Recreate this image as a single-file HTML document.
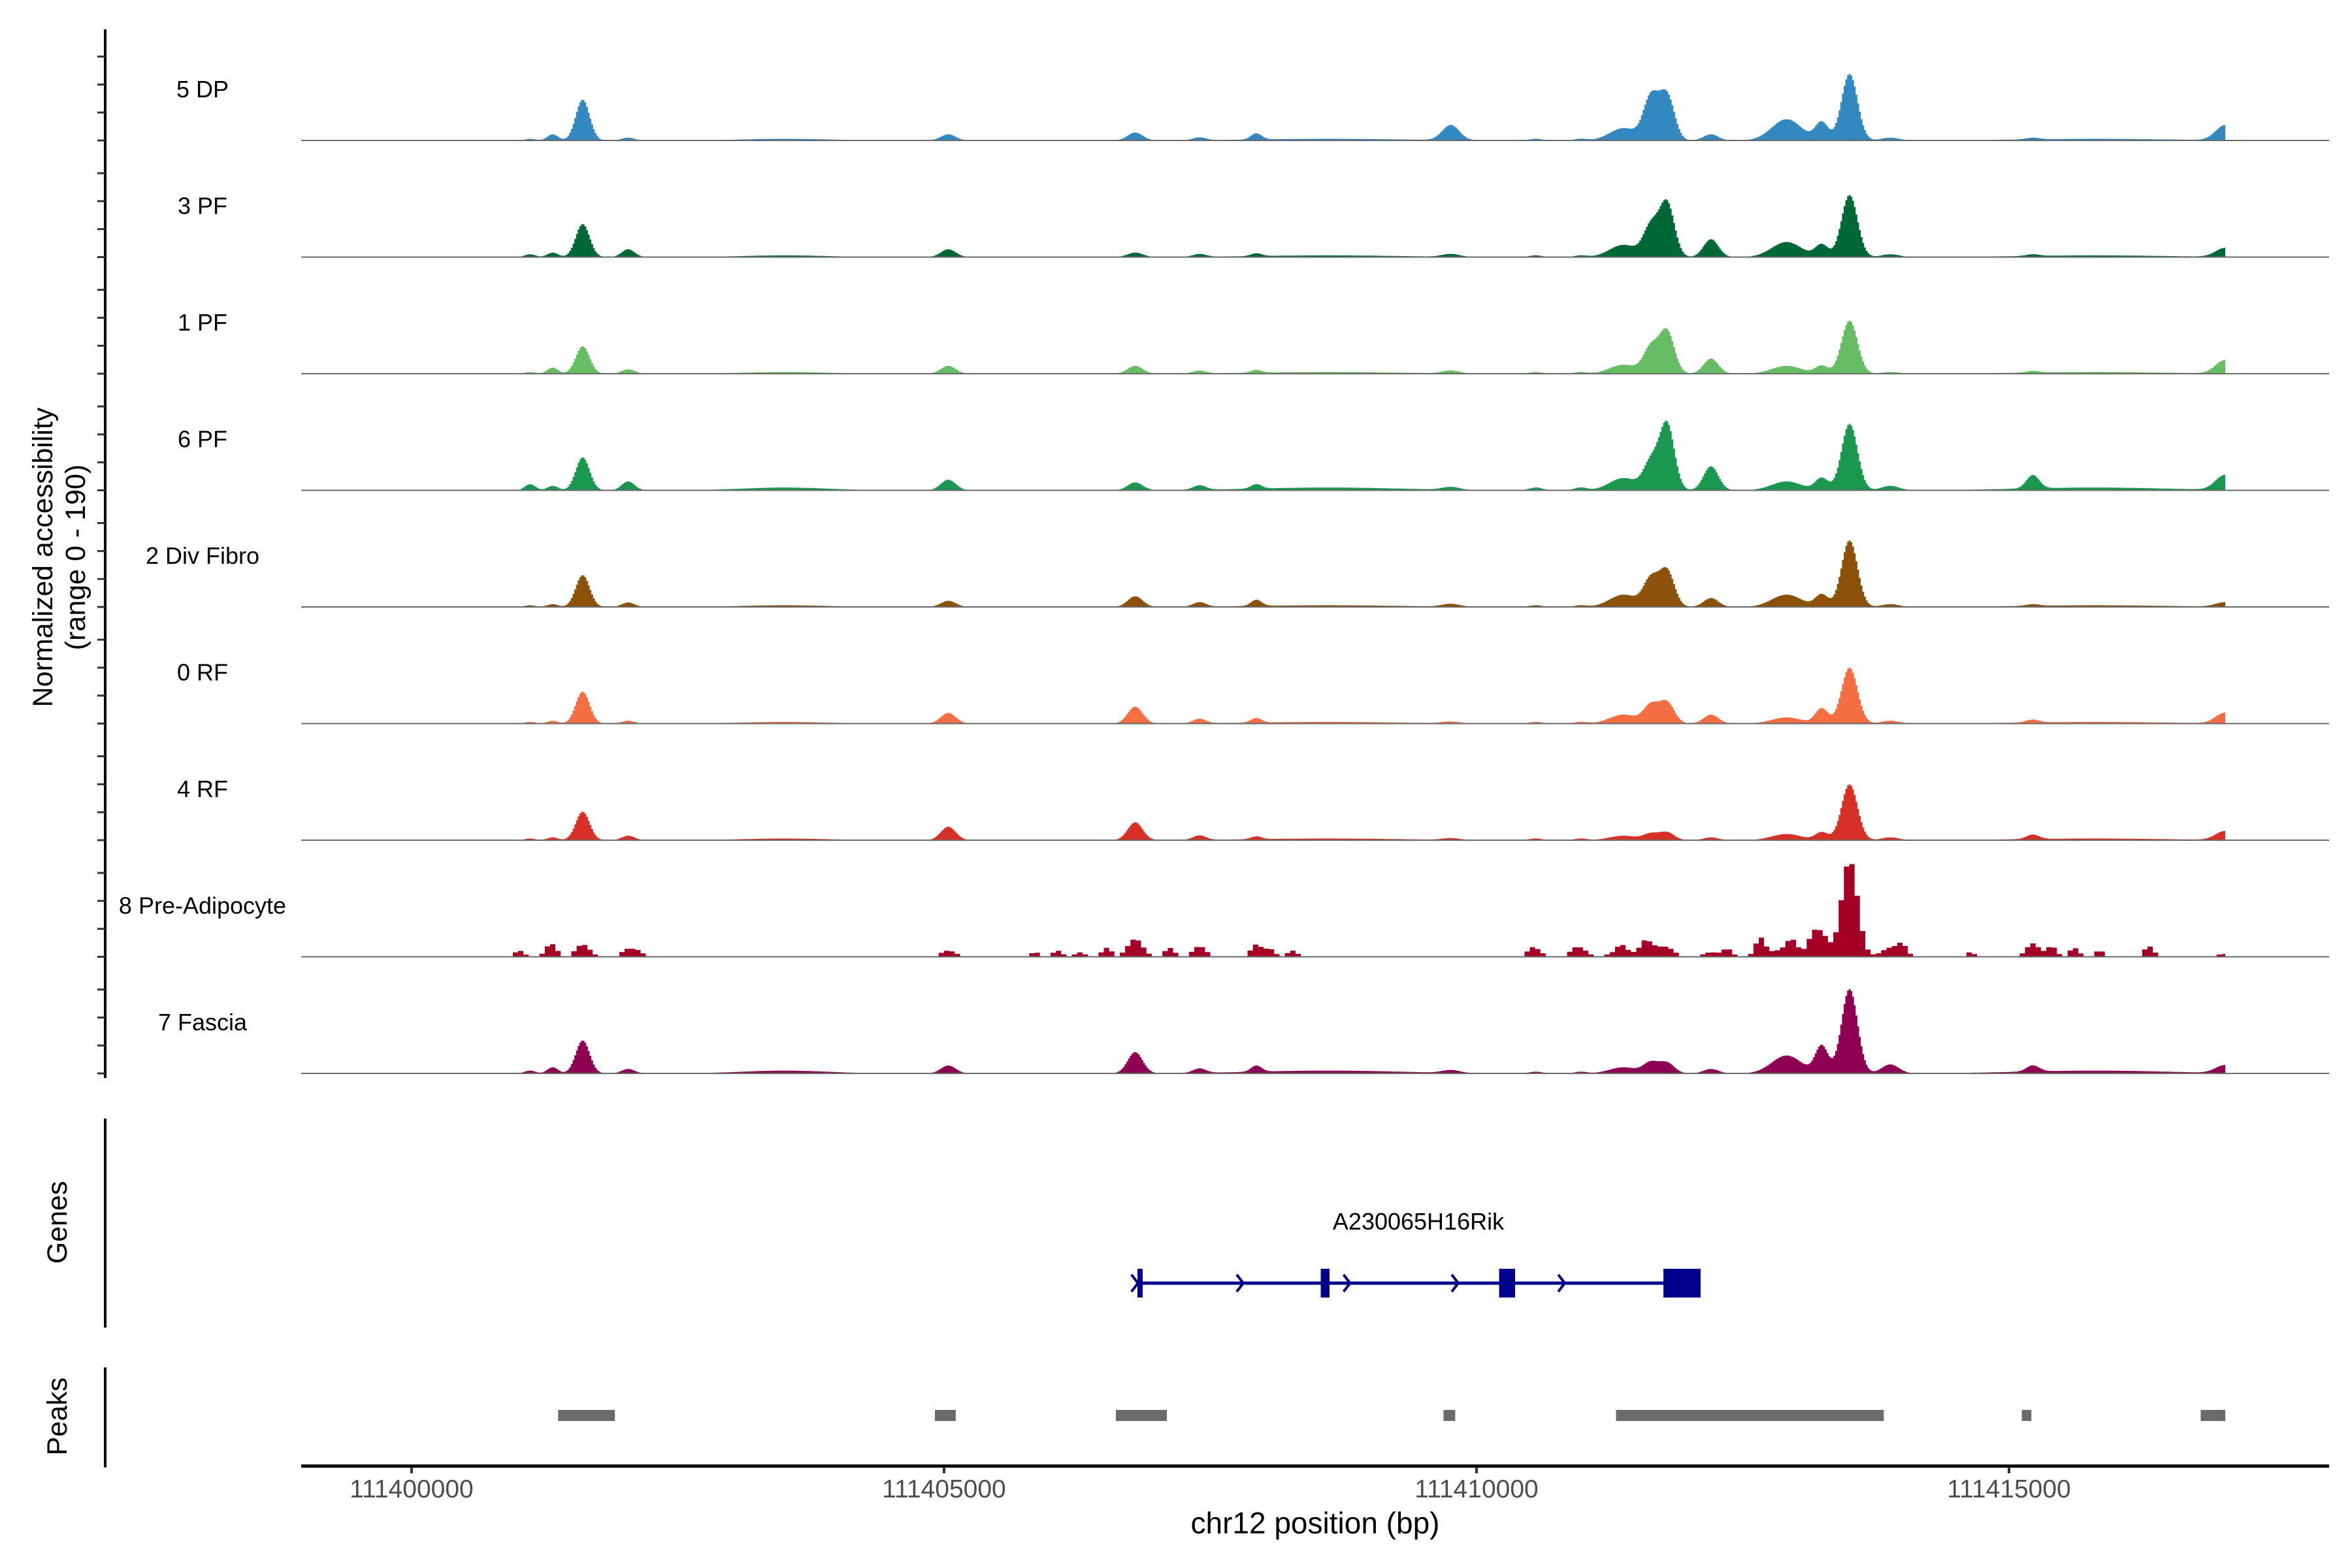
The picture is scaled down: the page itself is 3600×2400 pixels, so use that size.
<!DOCTYPE html>
<html><head><meta charset="utf-8">
<style>
html,body{margin:0;padding:0;background:#fff;}
svg{display:block;}
text{font-family:"Liberation Sans",Arial,sans-serif;}
</style></head>
<body>
<svg id="chart" width="3600" height="2400" viewBox="0 0 3600 2400" xmlns="http://www.w3.org/2000/svg">
  <rect width="3600" height="2400" fill="#fff"/>
  <g id="tracks"></g>
  <g id="axes"></g>
  <text transform="translate(80,853) rotate(-90)" text-anchor="middle" font-size="43" fill="#000">Normalized accessibility</text>
  <text transform="translate(130,853) rotate(-90)" text-anchor="middle" font-size="43" fill="#000">(range 0 - 190)</text>
  <text transform="translate(102,1871) rotate(-90)" text-anchor="middle" font-size="43" fill="#000">Genes</text>
  <text transform="translate(102,2168) rotate(-90)" text-anchor="middle" font-size="43" fill="#000">Peaks</text>
  <text x="2013" y="2347" text-anchor="middle" font-size="46" fill="#000">chr12 position (bp)</text>
  <g id="genes"></g>
  <g id="peaks"></g>
</svg>
<script>
// ---- data ----
const trackNames = ["5 DP","3 PF","1 PF","6 PF","2 Div Fibro","0 RF","4 RF","8 Pre-Adipocyte","7 Fascia"];
const trackColors = ["#3388c0","#006837","#66bd63","#1a9850","#8c510a","#f46d43","#d73027","#a50026","#8e0152"];
// shared peak positions (bp offset from 111400000) and widths (bp)
const peakPos =   [1113,1325,1607,2034,5040,6795,7399,7933,9758,10558,10979,11380,11638,11788,12202,12912,13242,13503,13886,15224,17031,3500,8600,15800];
const peakWidth = [50,50,65,60,70,70,60,50,80,60,60,130,70,70,70,140,60,75,80,60,90,400,700,700];
// per-track heights (normalized accessibility, 0-190)
const valsDP5   = [3,11,73,5,11,14,5,11,27,3,3,22,76,81,11,38,32,119,5,3,27,3,3,3];
const valsPF3   = [5,8,59,14,14,8,5,5,5,3,3,22,54,97,32,27,22,111,5,3,16,3,3,3];
const valsPF1   = [3,11,49,8,14,14,5,5,5,3,3,16,46,76,27,14,14,95,3,3,24,3,3,3];
const valsPF6   = [11,8,59,16,19,14,8,8,5,5,5,22,49,119,43,16,22,119,8,24,27,5,5,5];
const valsDiv2  = [3,5,57,8,11,19,8,11,5,3,3,22,49,65,16,22,22,119,5,3,8,3,3,3];
const valsRF0   = [3,5,57,5,19,30,8,8,3,3,3,16,32,38,16,11,27,100,5,5,19,3,3,3];
const valsRF4   = [3,5,51,8,24,32,8,5,3,3,3,8,11,14,5,11,14,100,5,8,16,3,3,3];
const valsPre8  = [0,14,22,14,11,32,19,22,0,11,14,8,16,16,8,14,40,173,16,24,5,0,0,0];
const valsFas7  = [5,11,59,8,14,38,8,11,5,3,3,11,19,19,8,32,49,151,16,11,14,5,5,5];
// extra sparse peaks for Pre-Adipocyte
const preExtraPos = [1011,1292,2134,5855,6065,6276,6529,7118,8059,8270,10516,10910,11358,11580,12355,12664,12959,13155,13998,14630,15400,15612,15850,16314];
const preExtraVal = [11,11,8,8,11,8,16,16,14,11,8,8,14,16,14,32,19,27,19,8,19,16,11,19];
// x ticks
const xTicks = [111400000,111405000,111410000,111415000];
// gene model
const exonStart = [111406816,111408537,111410212,111411755];
const exonEnd   = [111406865,111408620,111410362,111412104];
const arrowPos  = [111406790,111407779,111408782,111409798,111410798];
const geneName = "A230065H16Rik";
// peaks
const peakStart = [111401376,111404914,111406613,111409690,111411310,111415120,111416800];
const peakEnd   = [111401909,111405110,111407092,111409800,111413824,111415210,111417031];

// ---- scales ----
const NS="http://www.w3.org/2000/svg";
const X0=111400000, PX0=630, PXPERBP=0.163;
function xs(bp){return PX0+(bp-X0)*PXPERBP;}
const YPU=0.856; // px per unit
const base0=215, trackStep=178.5;
const plotLeft=461, plotRight=3565;
const dataStart=111399800, dataEnd=111417031;
function mk(tag,attrs,parent){const e=document.createElementNS(NS,tag);for(const k in attrs)e.setAttribute(k,attrs[k]);parent.appendChild(e);return e;}

const allVals=[valsDP5,valsPF3,valsPF1,valsPF6,valsDiv2,valsRF0,valsRF4,valsPre8,valsFas7];
const tracksG=document.getElementById('tracks');
allVals.forEach((vals,ti)=>{
  const base=base0+ti*trackStep;
  const isPre = ti===7;
  const bin = isPre?50:16;
  let pts=[];
  pts.push(xs(dataStart).toFixed(1)+","+base);
  for(let b=dataStart;b<=dataEnd;b+=bin){
    const c=b-X0+bin/2;
    let v=0;
    for(let i=0;i<peakPos.length;i++){const d=(c-peakPos[i])/peakWidth[i];v+=vals[i]*Math.exp(-0.5*d*d);}
    if(isPre){for(let i=0;i<preExtraPos.length;i++){const d=(c-preExtraPos[i])/45;v+=preExtraVal[i]*Math.exp(-0.5*d*d);}
      if(v<4)v=0;}
    v=Math.min(v,190);
    const y=(base-v*YPU).toFixed(1);
    const xa=xs(b).toFixed(1), xb=xs(Math.min(b+bin,dataEnd)).toFixed(1);
    pts.push(xa+","+y); pts.push(xb+","+y);
  }
  pts.push(xs(dataEnd).toFixed(1)+","+base);
  const poly=mk('polygon',{points:pts.join(" "),fill:trackColors[ti]},tracksG);
  
  
  const ln=mk('line',{x1:plotLeft,x2:plotRight,y1:base,y2:base,stroke:'#6a6a6a','stroke-width':2},tracksG);
  
  
  const t=mk('text',{x:310,y:base-66,'text-anchor':'middle','font-size':36,fill:'#000'},tracksG);
  t.textContent=trackNames[ti];
  
  
});

// ---- axes ----
const ax=document.getElementById('axes');
let l=mk('line',{x1:161,x2:161,y1:45,y2:1650,stroke:'#000','stroke-width':4},ax);


for(let ti=0;ti<9;ti++){
  const base=base0+ti*trackStep;
  for(let k=0;k<4;k++){
    const y=base-k*50*YPU;
    const tk=mk('line',{x1:149,x2:161,y1:y,y2:y,stroke:'#333','stroke-width':3},ax);
    
    
  }
}
l=mk('line',{x1:161,x2:161,y1:1712,y2:2032,stroke:'#000','stroke-width':4},ax);


l=mk('line',{x1:161,x2:161,y1:2093,y2:2246,stroke:'#000','stroke-width':4},ax);


l=mk('line',{x1:plotLeft,x2:plotRight,y1:2244,y2:2244,stroke:'#000','stroke-width':5},ax);


xTicks.forEach(v=>{
  const x=xs(v);
  const tk=mk('line',{x1:x,x2:x,y1:2246,y2:2255,stroke:'#333','stroke-width':4},ax);
  
  
  const tl=mk('text',{x:x,y:2292,'text-anchor':'middle','font-size':39,fill:'#4d4d4d'},ax);
  tl.textContent=String(v);
  
  
});

// ---- gene ----
const gg=document.getElementById('genes');
const gy=1964;
l=mk('line',{x1:xs(exonStart[0]),x2:xs(exonEnd[exonEnd.length-1]),y1:gy,y2:gy,stroke:'#00008b','stroke-width':5},gg);


arrowPos.forEach(p=>{
  const x=xs(p);
  const a=mk('polyline',{points:(x-5)+","+(gy-13)+" "+(x+5)+","+gy+" "+(x-5)+","+(gy+13),fill:'none',stroke:'#00008b','stroke-width':4},gg);
  
  
});
exonStart.forEach((s,i)=>{
  const x1=xs(s), x2=xs(exonEnd[i]);
  const r=mk('rect',{x:x1,y:gy-22,width:Math.max(x2-x1,8),height:44,fill:'#00008b'},gg);
  
  
});
const gt=mk('text',{x:2171,y:1882,'text-anchor':'middle','font-size':36,fill:'#000'},gg);
gt.textContent=geneName;



// ---- peaks ----
const pg=document.getElementById('peaks');
peakStart.forEach((s,i)=>{
  const x1=xs(s), x2=xs(peakEnd[i]);
  const r=mk('rect',{x:x1,y:2158,width:x2-x1,height:17,fill:'#6b6b6b'},pg);
  
  
});
</script>
</body></html>
